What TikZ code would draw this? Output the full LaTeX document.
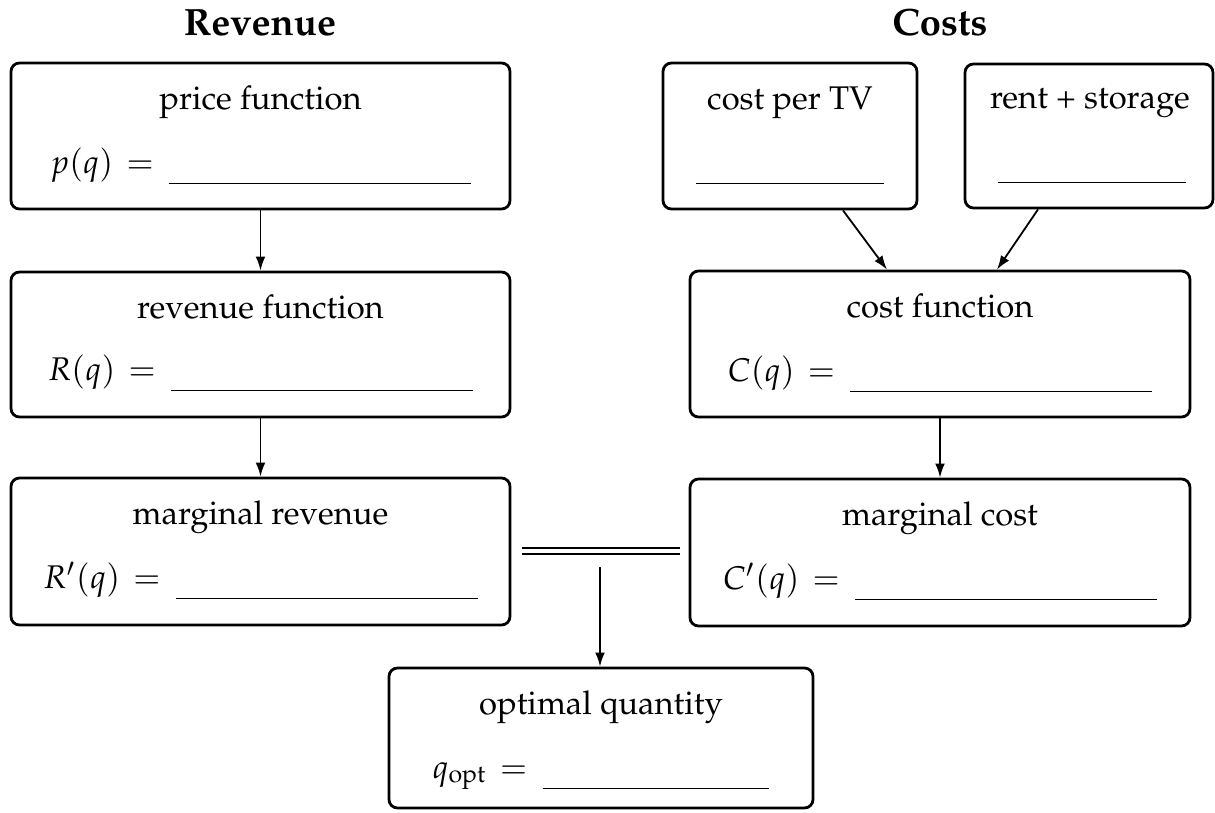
\documentclass[tikz,border=0pt]{standalone}
\usepackage[T1]{fontenc}
\usepackage{mathpazo}
\usetikzlibrary{arrows.meta,calc}
\newcommand{\blank}[1]{\rule[-3.4pt]{#1}{0.45pt}}
\begin{document}
\begin{tikzpicture}[x=0.305pt,y=-0.305pt,
  box/.style 2 args={draw, line width=0.85pt, rounded corners=2.6pt, inner sep=0pt,
    minimum width={#1*0.305pt}, minimum height={#2*0.305pt}},
  ttl/.style={anchor=base, inner sep=0pt, font=\fontsize{11.6}{14}\selectfont\bfseries},
  lbl/.style={anchor=base, inner sep=0pt},
  arr/.style={-{Latex[length=4.3pt,width=3pt]}, line width=0.55pt}]
\useasboundingbox (0,0) rectangle (1215,812);

% titles
\node[ttl] (trev) at (260,35) {Revenue};
\node[ttl] (tcost) at (940,35) {Costs};

% boxes
\node[box={499}{146}] (price) at (260.5,136) {};
\node[box={499}{145}] (revenue) at (260.5,344.5) {};
\node[box={499}{147}] (mrev) at (260.5,551.5) {};
\node[box={254}{146}] (ctv) at (790,136) {};
\node[box={248}{144}] (rent) at (1089,136) {};
\node[box={500}{146}] (cfun) at (940,344) {};
\node[box={500}{147}] (mcost) at (940,552.5) {};
\node[box={424}{140}] (opt) at (601,738) {};

% box texts
\node[lbl] (price-t) at (260.5,109) {price function};
\node[lbl] (price-m) at (260.5,173) {$p(q)$\hspace{4pt}$=$\hspace{4.6pt}\blank{92.1pt}};
\node[lbl] (revenue-t) at (260.5,318) {revenue function};
\node[lbl] (revenue-m) at (260.5,380) {$R(q)$\hspace{4pt}$=$\hspace{4.6pt}\blank{92.1pt}};
\node[lbl] (mrev-t) at (260.5,524) {marginal revenue};
\node[lbl] (mrev-m) at (260.5,588) {$R'(q)$\hspace{4pt}$=$\hspace{4.6pt}\blank{92.1pt}};
\node[lbl] (ctv-t) at (790,109) {cost per TV};
\node[lbl] (ctv-m) at (790,173) {\blank{57.6pt}};
\node[lbl] (rent-t) at (1090,108) {rent + storage};
\node[lbl] (rent-m) at (1092,172) {\blank{57.6pt}};
\node[lbl] (cfun-t) at (940,317) {cost function};
\node[lbl] (cfun-m) at (940,381) {$C(q)$\hspace{4pt}$=$\hspace{4.6pt}\blank{92.1pt}};
\node[lbl] (mcost-t) at (940,525) {marginal cost};
\node[lbl] (mcost-m) at (940,589) {$C'(q)$\hspace{4pt}$=$\hspace{4.6pt}\blank{92.1pt}};
\node[lbl] (opt-t) at (601,714) {optimal quantity};
\node[lbl] (opt-m) at (601,778) {$q_{\mathrm{opt}}$\hspace{4pt}$=$\hspace{4.6pt}\blank{69.2pt}};

% equality sign
\coordinate (eqL) at (522,551);
\coordinate (eqR) at (680,551);
\coordinate (eqB) at (600,567);
\draw[line width=0.6pt, double, double distance=1.4pt] (eqL) -- (eqR);

% connectors
\draw[arr] (price) -- (revenue);
\draw[arr] (revenue) -- (mrev);
\draw[arr] (cfun) -- (mcost);
\draw[arr] ($(ctv.south)+(53,0)$) -- ($(cfun.north)+(-53,0)$);
\draw[arr] ($(rent.south)+(-51,0)$) -- ($(cfun.north)+(57,0)$);
\draw[arr] (eqB) -- (eqB |- opt.north);
\end{tikzpicture}
\end{document}
